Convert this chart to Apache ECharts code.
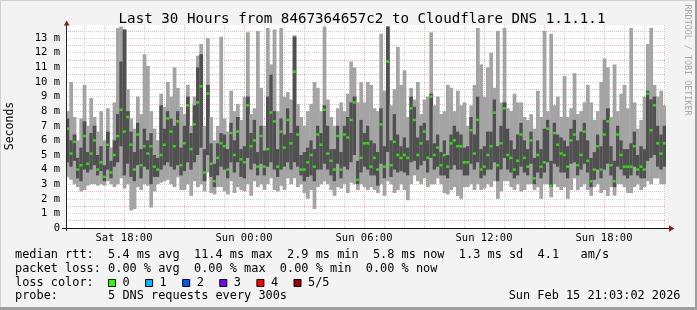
<!DOCTYPE html>
<html><head><meta charset="utf-8">
<script src="https://cdn.jsdelivr.net/npm/echarts@6/dist/echarts.min.js"></script>
<style>html,body{margin:0;padding:0;background:#f3f3f3}#c{width:697px;height:310px}</style>
</head><body><div id="c"></div>
<script>
// time axis in hours since Sat 00:00; graph covers Sat 15:06 .. Sun 21:06, 10-minute steps
const START_HOUR = 15.1;
const END_HOUR = 45.1;
const STEP_HOURS = 1 / 6;
const xLabelHours = [18, 24, 30, 36, 42];

const medianMs = [
 6.8,5.1,5.9,4.0,4.3,6.3,4.4,5.1,6.0,4.0,4.5,3.5,5.7,3.8,5.0,6.3,8.1,6.6,7.6,5.7,4.0,6.4,4.3,5.6,5.1,5.6,4.2,4.0,5.0,5.7,
 7.5,6.6,5.6,7.3,4.3,5.8,8.4,5.4,7.1,8.6,9.7,3.8,9.2,4.4,3.2,4.8,5.8,5.6,4.0,6.5,5.0,6.6,4.7,4.5,8.4,5.6,6.0,4.2,6.3,4.2,
 5.4,7.9,7.3,4.2,6.6,5.5,7.4,5.8,10.7,6.4,4.0,4.0,4.5,5.0,4.2,6.4,5.7,8.1,5.1,4.6,4.0,6.3,4.0,6.4,6.2,7.4,8.6,3.3,4.8,5.8,
 5.8,4.2,4.8,4.0,7.1,4.2,11.4,4.3,5.9,5.0,4.8,5.0,4.8,8.2,7.4,5.0,5.8,6.6,4.8,9.0,5.0,5.5,4.3,5.0,4.2,5.8,6.0,5.6,5.6,4.5,
 4.5,6.7,5.1,7.4,4.0,4.2,5.0,5.6,7.9,4.3,5.8,8.2,5.0,4.8,4.0,4.6,6.4,4.8,4.2,6.0,3.4,5.0,4.2,4.5,6.8,2.9,6.5,5.7,5.1,5.0,
 4.2,6.0,6.4,4.3,5.0,6.6,4.6,3.2,4.0,5.6,4.0,6.4,7.3,4.3,3.2,6.4,5.0,4.2,4.2,4.2,5.6,4.0,4.2,4.0,9.2,6.7,8.4,5.8,5.1,5.8
];
const minMs = [
 3.5,3.3,3.0,2.8,2.5,2.6,2.9,3.0,3.0,2.9,3.0,2.9,3.2,3.0,2.8,3.0,3.4,2.7,3.0,1.2,1.3,2.8,2.6,3.0,2.9,1.4,2.5,3.0,3.1,3.2,
 3.3,3.0,2.8,3.5,2.6,2.6,3.0,2.2,3.2,2.8,3.0,2.5,3.8,2.4,2.3,2.8,2.8,2.5,2.3,3.2,2.4,2.8,2.6,2.5,3.0,2.2,3.2,2.8,3.0,2.6,
 3.0,3.4,2.6,2.5,2.9,2.6,3.4,3.0,3.4,2.8,3.0,2.4,2.0,2.6,1.3,2.8,3.0,3.2,3.0,2.6,2.2,2.8,2.7,3.0,2.4,3.1,3.0,2.6,3.0,2.8,
 2.6,2.8,2.6,2.4,3.0,2.2,3.2,3.0,2.4,2.6,3.0,2.6,1.9,3.0,3.6,3.2,3.0,3.4,2.8,3.0,3.0,3.4,3.0,2.4,2.3,2.6,2.8,2.2,2.0,2.8,
 2.8,3.0,2.6,3.0,2.6,2.7,3.0,2.8,3.2,2.0,2.5,3.2,3.2,2.8,2.6,3.0,2.5,2.6,3.0,3.0,2.6,2.8,2.0,3.0,3.0,2.1,3.0,2.8,2.6,2.8,
 2.0,2.6,3.4,2.6,2.8,3.0,2.6,2.2,2.8,3.0,2.4,2.6,2.2,2.8,2.2,3.0,3.0,2.8,2.4,2.4,2.8,3.0,2.6,2.8,3.2,3.0,3.4,3.4,3.0,3.0
];
const lowMs = [
 4.5,4.2,4.6,3.4,3.2,4.0,3.8,4.0,4.3,3.6,3.9,3.2,4.0,3.4,4.2,4.5,5.6,3.6,4.4,3.5,3.2,4.3,3.4,4.2,4.0,3.0,3.5,3.5,4.0,4.3,
 4.5,4.2,4.0,4.3,3.6,3.9,4.5,4.0,4.5,5.0,5.5,3.2,5.0,3.5,2.8,3.6,4.2,4.0,3.4,4.5,3.8,4.5,3.5,3.4,4.8,4.0,4.4,3.6,4.4,3.6,
 4.2,4.5,4.0,3.5,4.0,4.2,4.5,4.0,4.5,4.2,3.6,3.2,3.5,3.6,3.2,4.0,4.0,4.4,4.0,3.6,3.2,4.4,3.4,4.2,4.0,4.5,5.0,3.0,3.8,4.2,
 4.0,3.6,3.6,2.9,4.4,3.4,5.2,3.5,4.0,3.8,3.9,3.8,3.6,4.5,4.6,4.0,4.3,4.6,3.8,4.8,4.0,4.2,3.6,3.6,3.4,4.0,4.3,4.0,4.0,3.6,
 3.6,4.4,4.0,4.5,3.4,3.6,4.0,4.0,4.5,3.2,4.0,4.8,4.0,3.8,3.4,3.6,4.2,3.8,3.6,4.4,3.0,3.8,3.4,3.8,4.5,2.8,4.4,4.2,3.8,3.8,
 3.4,4.4,4.5,3.6,4.0,4.4,3.8,2.8,3.3,4.0,3.4,4.0,4.4,3.6,2.8,4.2,4.0,3.6,3.4,3.6,4.2,3.6,3.4,3.4,4.6,4.8,5.0,4.2,4.0,4.2
];
const highMs = [
 7.5,6.0,6.4,4.8,5.5,7.3,5.2,6.5,7.0,5.0,5.6,4.3,6.6,4.6,6.0,7.8,11.4,13.6,8.0,6.6,5.2,7.2,5.4,6.8,6.0,6.5,5.0,4.8,8.4,6.8,
 8.0,7.5,7.0,8.0,5.5,7.0,9.0,6.5,8.4,11.0,11.9,5.4,9.8,5.8,4.4,5.8,6.5,6.4,5.4,7.2,6.0,7.6,5.4,5.6,9.0,6.5,7.4,5.2,7.0,5.3,
 9.0,10.5,8.0,5.4,7.5,6.4,8.2,6.5,13.1,7.0,5.0,5.2,5.5,6.0,5.4,7.0,6.5,8.4,7.0,5.4,5.4,7.0,5.2,7.0,7.6,8.6,9.0,4.6,7.4,6.5,
 7.0,6.0,5.8,5.2,8.2,5.6,13.8,6.0,7.8,6.4,5.6,6.2,5.5,9.0,8.3,6.2,7.0,7.2,6.0,9.2,5.8,6.4,5.2,6.0,5.0,6.4,7.0,6.6,6.4,5.5,
 5.6,7.6,6.4,9.0,5.4,5.6,6.6,6.6,8.8,5.6,7.0,8.6,6.8,6.0,5.4,6.4,7.2,6.0,5.4,6.6,4.8,6.0,5.4,6.8,7.4,4.6,7.2,6.4,6.2,6.0,
 5.6,6.8,7.4,6.0,6.6,7.2,6.0,4.8,5.2,6.4,5.6,7.4,8.2,5.6,4.6,7.0,6.0,5.4,5.4,5.8,6.6,5.0,5.6,5.4,9.4,8.8,9.0,7.0,6.4,7.0
];
const maxMs = [
 8.0,10.0,7.6,6.0,7.5,9.8,7.0,8.9,7.6,6.6,8.0,6.0,8.2,5.5,8.6,13.7,13.8,13.6,9.5,7.5,6.8,9.0,7.8,11.9,11.1,8.0,6.8,6.0,9.2,8.3,
 10.0,9.0,11.0,9.6,8.3,7.8,9.8,7.0,9.0,11.8,12.6,7.0,13.0,7.6,6.0,7.0,13.1,7.5,6.6,9.4,8.0,8.5,7.4,9.0,13.4,7.8,8.2,13.5,9.6,7.0,
 13.7,11.2,13.6,8.0,13.7,9.0,9.3,8.8,13.2,8.5,7.6,7.0,8.0,8.5,10.0,9.6,8.0,13.8,8.8,7.6,7.0,8.2,8.6,8.0,9.2,11.4,11.0,8.6,10.0,8.6,
 10.0,9.8,8.2,8.0,13.3,9.4,13.8,8.4,9.5,12.4,9.8,10.8,7.6,9.6,8.8,10.0,7.8,8.8,9.0,13.4,8.4,9.0,7.8,8.0,9.8,9.6,8.0,9.4,8.4,8.6,
 7.0,8.4,9.8,13.7,11.2,9.0,11.0,12.0,9.6,13.5,8.6,13.7,8.2,8.0,9.2,8.6,8.6,7.6,7.4,7.8,6.8,9.4,7.6,13.5,8.0,13.3,8.4,9.0,7.6,10.4,
 7.6,8.2,10.6,7.8,8.0,8.6,9.8,8.6,7.4,8.0,10.0,11.6,11.0,7.6,11.2,8.0,9.2,9.8,8.2,13.7,8.6,6.8,7.4,9.0,12.6,13.7,9.8,9.0,9.4,8.4
];

const legendLossLabels = ['0', '1', '2', '3', '4', '5/5'];
const legendLossColors = ['#26ff00', '#00b8ff', '#0059ff', '#7e00ff', '#ff0000', '#a00000'];

const MONO = '"DejaVu Sans Mono", "Liberation Mono", monospace';

const times = medianMs.map((_, i) => START_HOUR + (i + 0.5) * STEP_HOURS);
const smokeData = times.map((t, i) => [t, minMs[i], lowMs[i], highMs[i], maxMs[i]]);
const medianData = times.map((t, i) => [t, medianMs[i]]);

function pad2(n) { return (n < 10 ? '0' : '') + n; }
function hourLabel(v) {
  if (xLabelHours.indexOf(v) < 0) return '';
  return (v < 24 ? 'Sat ' : 'Sun ') + pad2(v % 24) + ':00';
}

function renderSmoke(params, api) {
  const t = api.value(0);
  const w = api.size([STEP_HOURS, 0])[0];
  const pMax = api.coord([t, api.value(4)]);
  const pMin = api.coord([t, api.value(1)]);
  const pHi = api.coord([t, api.value(3)]);
  const pLo = api.coord([t, api.value(2)]);
  const x = pMax[0] - w / 2;
  return {
    type: 'group',
    children: [
      { type: 'rect', shape: { x: x, y: pMax[1], width: w + 0.4, height: pMin[1] - pMax[1] }, style: { fill: '#a4a4a4' } },
      { type: 'rect', shape: { x: x, y: pHi[1], width: w + 0.4, height: pLo[1] - pHi[1] }, style: { fill: '#505050' } }
    ]
  };
}

const GL = 66, GR = 31, GT = 25, GB = 82;
const RED = '#f3b6b6', GRAY = '#d3d3d3';

const txt = (x, y, text, extra) => ({
  type: 'text', x: x, y: y, z: 100,
  style: Object.assign({ text: text, fontFamily: MONO, fontSize: 11.9, fill: '#000', textAlign: 'left', textVerticalAlign: 'middle' }, extra || {})
});

const graphics = [
  // frame
  { type: 'rect', z: 100, shape: { x: 0, y: 0, width: 697, height: 1 }, style: { fill: '#d0d0d0' } },
  { type: 'rect', z: 100, shape: { x: 0, y: 0, width: 1, height: 310 }, style: { fill: '#d0d0d0' } },
  { type: 'rect', z: 100, shape: { x: 695, y: 0, width: 2, height: 310 }, style: { fill: '#9e9e9e' } },
  { type: 'rect', z: 100, shape: { x: 0, y: 307, width: 697, height: 3 }, style: { fill: '#9e9e9e' } },
  // axes lines + arrows
  { type: 'line', z: 100, shape: { x1: 66.5, y1: 231, x2: 66.5, y2: 24 }, style: { stroke: '#222', lineWidth: 1 } },
  { type: 'polygon', z: 100, shape: { points: [[66.7, 20.5], [63.8, 25.5], [69.6, 25.5]] }, style: { fill: '#8b1c1c' } },
  { type: 'line', z: 100, shape: { x1: 62, y1: 228.5, x2: 670, y2: 228.5 }, style: { stroke: '#111', lineWidth: 1 } },
  { type: 'polygon', z: 100, shape: { points: [[674.5, 228.5], [669, 225.3], [669, 231.7]] }, style: { fill: '#8b1c1c' } },
  // title & side labels
  txt(362, 19, 'Last 30 Hours from 8467364657c2 to Cloudflare DNS 1.1.1.1', { fontSize: 14.2, textAlign: 'center' }),
  { type: 'text', x: 10.5, y: 126, rotation: Math.PI / 2, z: 100,
    style: { text: 'Seconds', fontFamily: MONO, fontSize: 11.5, fill: '#000', textAlign: 'center', textVerticalAlign: 'middle' } },
  { type: 'text', x: 687.5, y: 60, rotation: -Math.PI / 2, z: 100,
    style: { text: 'RRDTOOL / TOBI OETIKER', fontFamily: MONO, fontSize: 8.4, fill: '#a8a8a8', textAlign: 'center', textVerticalAlign: 'middle' } },
  // legend text
  txt(15, 255, 'median rtt:  5.4 ms avg  11.4 ms max  2.9 ms min  5.8 ms now  1.3 ms sd  4.1   am/s'),
  txt(15, 268.5, 'packet loss: 0.00 % avg  0.00 % max  0.00 % min  0.00 % now'),
  txt(15, 282.5, 'loss color:'),
  txt(15, 296, 'probe:       5 DNS requests every 300s'),
  txt(680.5, 296, 'Sun Feb 15 21:03:02 2026', { textAlign: 'right' })
];
legendLossLabels.forEach((lab, k) => {
  const bx = 108 + k * 37.1;
  graphics.push({ type: 'rect', z: 100, shape: { x: bx + 0.5, y: 279.5, width: 7, height: 7 },
    style: { fill: legendLossColors[k], stroke: '#000', lineWidth: 1 } });
  graphics.push(txt(bx + 14.5, 282.5, lab));
});

const chart = echarts.init(document.getElementById('c'), null, { renderer: 'canvas' });
chart.setOption({
  animation: false,
  backgroundColor: '#f3f3f3',
  grid: [
    { left: GL, right: GR, top: GT, bottom: GB, show: true, backgroundColor: '#ffffff', borderWidth: 0 },
    { left: GL + (16 - START_HOUR) * 20, right: GR + (END_HOUR - 45) * 20, top: GT, bottom: GB, show: false }
  ],
  xAxis: [
    { type: 'value', gridIndex: 0, min: START_HOUR, max: END_HOUR,
      axisLine: { show: false }, axisTick: { show: false }, axisLabel: { show: false }, splitLine: { show: false } },
    { type: 'value', gridIndex: 1, min: 16, max: 45, interval: 1,
      axisLine: { show: false }, axisTick: { show: false },
      axisLabel: { interval: 0, formatter: hourLabel, fontFamily: MONO, fontSize: 10.5, color: '#000', margin: 5 },
      splitLine: { show: true, lineStyle: { color: [GRAY, GRAY, RED], type: [1, 1], width: 1 } } }
  ],
  yAxis: [
    { type: 'value', gridIndex: 0, min: 0, max: 13.9, interval: 0.5,
      axisLine: { show: false }, axisTick: { show: false },
      axisLabel: { showMaxLabel: false, fontFamily: MONO, fontSize: 10.5, color: '#000', margin: 6,
        formatter: v => v === 0 ? '0' : (v % 1 === 0 ? v + ' m' : '') },
      splitLine: { show: true, showMaxLine: false, showMinLine: false, lineStyle: { color: [RED, GRAY], type: [1, 1], width: 1 } } },
    { type: 'value', gridIndex: 1, min: 0, max: 13.9, show: false, splitLine: { show: false } }
  ],
  series: [
    { type: 'custom', xAxisIndex: 0, yAxisIndex: 0, z: 2, renderItem: renderSmoke,
      encode: { x: 0, y: [1, 2, 3, 4] }, data: smokeData, clip: true },
    { type: 'scatter', xAxisIndex: 0, yAxisIndex: 0, z: 3, symbol: 'rect', symbolSize: [3, 2.5],
      itemStyle: { color: '#26ff00' }, data: medianData, silent: true }
  ],
  graphic: graphics
});
</script></body></html>
